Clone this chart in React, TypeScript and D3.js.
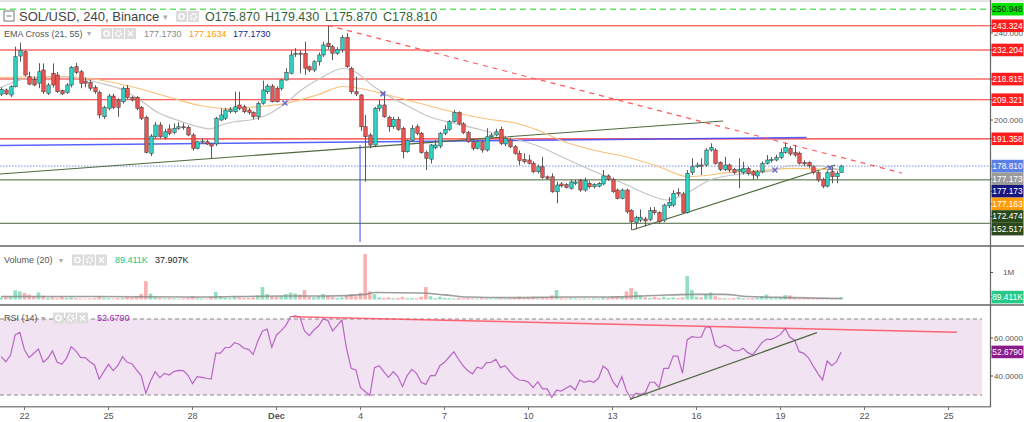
import React from "react";
import * as d3 from "d3";

// ---------- DATA ----------
const opens = [211.9,213.8,211.5,215.3,229.4,231.4,219.9,218.7,216.9,223.0,212.3,221.5,220.7,213.5,212.6,216.1,224.5,222.2,217.9,217.2,214.9,212.6,201.5,205.4,211.0,209.2,208.4,214.6,210.4,210.4,205.8,201.2,184.7,192.3,197.7,192.0,195.9,194.3,196.2,196.9,196.6,193.1,187.0,190.0,190.0,189.0,189.0,200.0,200.8,203.8,203.8,206.9,206.1,204.6,203.4,201.5,207.7,213.0,215.6,214.6,214.6,218.4,221.5,230.2,230.7,230.7,224.5,223.0,226.8,229.9,235.3,233.7,230.7,232.2,238.0,223.8,213.0,211.5,196.9,193.1,188.5,205.4,206.9,201.2,196.9,200.3,196.2,185.4,190.5,196.9,193.9,185.0,182.0,187.2,188.0,193.9,195.7,199.2,203.4,198.2,194.2,190.0,187.0,190.0,186.2,192.3,193.1,195.7,189.0,190.8,187.7,184.7,181.9,181.6,180.1,176.2,178.5,173.9,173.9,167.0,170.6,170.3,168.6,170.9,172.1,167.8,170.9,169.3,169.6,170.6,174.3,172.7,167.8,164.0,167.8,158.3,152.8,154.0,154.5,154.3,158.3,157.4,154.0,160.5,160.9,166.6,166.0,157.4,175.8,178.5,179.3,179.3,186.2,186.2,180.4,177.3,179.3,177.3,176.5,175.8,177.8,176.2,174.3,176.2,180.1,181.3,181.6,182.8,185.0,187.0,185.0,184.7,180.4,180.4,178.5,175.8,172.7,169.6,176.2,173.9,175.87];
const highs = [215.0,214.5,216.0,233.7,235.5,232.0,222.2,220.0,226.1,226.0,217.0,226.0,222.0,214.0,217.0,224.8,226.3,223.0,219.5,218.5,216.0,213.5,206.5,212.0,212.0,210.0,215.5,216.1,211.0,211.0,206.5,202.0,193.5,199.0,199.0,196.0,198.0,198.5,199.0,198.5,197.5,194.0,190.5,191.5,191.0,189.5,201.5,205.4,205.5,206.0,213.0,213.0,207.0,205.5,204.0,208.5,218.1,216.5,216.5,215.5,219.0,223.8,232.0,233.0,232.0,236.0,225.0,227.5,231.0,236.0,243.3,234.5,233.5,239.1,239.9,224.5,219.9,212.0,202.3,194.0,206.0,209.2,213.0,202.0,201.5,201.5,197.0,191.0,197.7,198.0,194.5,186.0,189.0,190.8,194.5,197.7,200.0,204.6,204.0,199.0,195.0,191.0,190.5,190.5,196.2,194.0,196.0,196.9,192.5,191.5,188.5,186.0,184.7,183.9,181.0,179.5,183.1,174.5,175.5,171.6,171.5,171.0,172.5,172.5,173.0,173.5,172.0,171.0,171.5,177.0,175.0,173.5,168.5,168.5,168.5,159.0,156.0,158.9,155.5,159.9,160.0,158.0,161.5,164.5,167.8,168.6,167.0,177.0,182.4,180.5,182.4,187.0,189.3,187.0,181.0,183.1,180.0,178.0,182.4,180.8,178.5,177.0,177.0,181.0,183.9,183.0,184.0,187.0,189.6,188.0,188.5,185.5,181.5,181.0,179.0,176.5,173.5,176.5,178.5,176.5,179.43];
const lows = [211.0,211.5,210.5,215.0,226.8,220.0,216.0,215.5,214.6,212.0,211.5,215.0,212.5,211.5,212.0,215.0,221.0,214.6,215.0,213.5,212.0,200.8,200.5,204.5,205.0,201.5,207.5,209.5,208.5,204.5,200.0,184.7,183.4,191.5,191.5,191.0,193.0,193.5,195.5,195.5,192.5,185.9,186.5,189.0,188.5,182.4,188.0,199.5,200.0,203.0,203.0,204.5,203.0,202.5,200.3,200.0,207.0,212.0,208.0,208.0,213.5,218.0,221.0,229.0,221.5,220.7,222.0,222.0,225.0,229.0,232.5,227.6,230.0,231.0,224.0,212.0,211.0,195.0,171.6,187.0,187.5,204.0,201.0,194.6,196.0,195.0,182.4,185.0,190.0,193.0,184.5,177.0,180.0,186.5,187.0,193.0,195.0,198.8,197.5,193.5,189.5,186.0,186.5,185.0,185.5,191.5,192.5,188.5,188.0,187.0,184.0,179.3,180.0,179.5,175.5,175.5,173.0,172.5,166.5,161.7,169.0,168.5,168.0,170.0,167.0,167.0,168.5,168.5,169.0,170.0,172.0,166.5,163.5,163.5,157.0,149.4,149.7,153.0,151.0,153.5,156.5,152.5,153.0,159.5,160.0,165.0,157.0,157.0,174.7,178.0,174.7,178.5,185.5,179.5,176.5,176.5,176.0,175.0,168.6,175.0,174.5,172.4,173.0,175.5,179.5,180.5,181.0,182.0,184.5,183.5,183.0,179.5,179.0,178.0,175.0,171.5,168.6,169.0,170.9,170.9,175.87];
const closes = [214.1,212.0,215.3,229.1,231.9,220.7,216.5,216.1,222.2,213.0,216.1,216.1,213.0,212.0,216.1,224.2,221.9,216.9,216.9,214.6,213.0,202.3,205.8,211.0,205.8,205.8,214.6,210.4,209.2,205.4,200.8,185.0,192.6,197.7,192.3,194.6,193.9,196.2,196.9,196.6,193.1,187.0,190.0,190.3,189.0,188.0,200.8,202.3,204.6,204.9,206.1,205.4,203.8,203.5,201.5,207.7,213.8,215.6,208.4,208.4,218.4,221.8,229.9,230.7,230.2,223.8,223.0,226.8,229.9,234.5,233.7,230.7,232.5,238.0,224.5,213.0,212.0,196.9,192.3,188.5,205.4,206.9,201.5,196.9,200.3,195.7,185.4,190.5,196.2,193.9,185.0,182.4,188.5,188.5,193.9,195.7,199.2,203.4,198.2,194.2,190.0,187.0,190.0,186.2,192.3,193.1,194.6,189.3,191.6,187.7,184.7,181.3,180.8,180.1,176.2,178.5,173.6,173.2,167.0,170.1,169.7,169.0,171.5,171.5,167.8,172.1,169.3,170.4,170.9,174.3,172.7,167.0,164.0,167.8,157.8,153.2,155.3,155.3,153.6,158.3,157.4,153.2,160.9,162.0,166.3,166.0,157.4,175.5,178.5,179.3,178.8,186.2,187.4,180.1,177.3,179.3,177.0,175.8,177.3,177.8,175.5,174.7,176.2,180.1,181.6,181.9,182.8,185.0,187.4,184.4,183.9,180.1,179.8,178.9,175.8,172.4,169.6,175.8,173.9,175.5,178.81];
// volume in millions
const volumes = [0.08,0.1,0.12,0.34,0.3,0.24,0.18,0.12,0.26,0.14,0.06,0.08,0.05,0.1,0.06,0.08,0.05,0.04,0.03,0.04,0.05,0.12,0.06,0.05,0.04,0.05,0.06,0.1,0.08,0.12,0.2,0.68,0.22,0.08,0.06,0.04,0.05,0.04,0.03,0.04,0.05,0.12,0.05,0.04,0.03,0.1,0.28,0.12,0.06,0.05,0.1,0.08,0.05,0.06,0.08,0.15,0.46,0.2,0.12,0.1,0.12,0.2,0.25,0.22,0.18,0.35,0.1,0.08,0.12,0.2,0.15,0.1,0.06,0.08,0.15,0.2,0.12,0.25,1.68,0.3,0.2,0.08,0.06,0.08,0.05,0.06,0.1,0.05,0.06,0.04,0.1,0.46,0.12,0.05,0.1,0.06,0.05,0.04,0.06,0.04,0.05,0.04,0.03,0.05,0.04,0.03,0.03,0.04,0.03,0.04,0.05,0.1,0.04,0.05,0.1,0.04,0.08,0.06,0.15,0.35,0.05,0.04,0.05,0.04,0.03,0.04,0.03,0.04,0.03,0.08,0.06,0.1,0.12,0.08,0.3,0.42,0.3,0.15,0.08,0.06,0.1,0.06,0.1,0.06,0.08,0.05,0.08,0.87,0.35,0.1,0.08,0.2,0.26,0.12,0.06,0.05,0.04,0.05,0.08,0.05,0.04,0.05,0.06,0.12,0.18,0.05,0.04,0.06,0.16,0.15,0.05,0.03,0.04,0.05,0.04,0.05,0.06,0.06,0.05,0.05,0.089411];
const rsiValues = [50.2,47.5,51.0,61.6,63.0,53.7,49.7,52.0,54.2,47.2,49.3,53.2,47.2,46.3,49.3,55.4,53.2,49.8,49.7,47.5,45.8,38.4,42.3,46.1,42.8,45.4,50.2,47.2,46.5,43.2,40.2,30.9,37.4,42.3,39.1,41.4,40.5,42.3,43.0,42.8,40.5,36.0,39.7,39.3,38.8,38.4,52.0,52.0,55.0,55.0,57.5,56.7,54.6,54.0,51.4,58.4,63.7,64.7,55.1,61.6,63.9,66.5,71.2,71.6,71.1,63.7,61.2,64.2,66.3,70.0,69.3,63.7,66.5,69.5,54.6,44.0,43.2,33.9,31.8,29.7,44.4,45.4,42.3,39.3,42.3,39.7,34.4,40.2,43.5,41.4,36.7,35.6,40.2,40.2,45.4,47.2,50.0,52.8,48.8,45.3,42.8,41.1,44.6,43.9,47.0,47.2,48.8,44.4,45.4,42.3,39.6,37.9,37.7,36.7,33.9,37.0,33.2,33.2,28.8,32.6,32.1,33.5,34.9,32.6,37.9,36.7,37.4,36.7,38.8,45.3,43.2,37.4,34.0,39.6,32.1,27.9,30.9,30.3,31.2,36.7,36.7,34.0,44.0,44.0,50.5,50.5,41.4,59.0,60.7,60.4,60.4,66.0,65.4,56.3,54.9,56.3,55.1,53.3,53.3,54.6,52.3,51.1,54.2,57.5,59.3,59.3,60.4,61.9,65.1,60.4,59.0,52.8,51.9,49.6,45.3,41.4,37.9,47.9,45.4,47.5,52.679];

const ema21Bars = [-0.26,6.17,14.1,17.53,21.17,26.1,29.74,33.38,37.67,41.95,44.74,46.88,49.67,53.95,56.95,61.24,64.02,68.31,73.24,76.24,79.67,82.02,86.95,91.88,96.81,102.6,108.38,115.45,119.74,122.52,129.38,134.1,138.38,142.67,146.95,151.88,156.81,164.1,169.66,174.81,178.24,180];
const ema21Values = [214.71,219.31,219.77,218.85,217.01,213.79,209.2,203.68,200.0,197.01,195.86,197.47,199.08,200.23,202.3,208.28,213.33,219.08,223.68,221.61,215.63,212.28,206.67,201.38,198.62,195.63,192.32,187.72,183.45,180.69,174.25,170.11,165.98,163.22,166.44,172.41,174.71,176.23,179.08,179.08,177.79,177.173];
const ema55Bars = [-0.26,14.1,21.17,28.24,35.53,42.6,48.38,55.45,61.02,67.67,73.24,77.52,82.02,88.24,95.52,104.74,109.67,115.45,119.74,126.81,134.1,141.16,146.95,149.73,155.52,162.59,169.66,176.95,180];
const ema55Values = [219.54,220.0,218.39,215.17,210.8,206.67,205.29,206.21,207.68,211.49,215.4,214.25,211.95,208.51,204.37,200.23,198.85,194.94,190.8,186.21,182.99,178.39,174.02,174.25,175.77,176.69,177.79,177.33,177.163];
const crossBars = [60.8, 81.8, 165.8, 177.6];
const crossPrices = [207.8, 212.0, 177.0, 177.9];

const volMaBars = [0,20,40,60,70,78,80,90,95,100,110,120,130,140,148,155,160,170,180];
const volMaValues = [0.11,0.11,0.09,0.13,0.13,0.19,0.26,0.24,0.17,0.09,0.07,0.09,0.09,0.15,0.19,0.19,0.11,0.07,0.038];

const levelPrices = [250.948, 243.324, 232.204, 218.815, 209.321, 191.358, 178.81, 172.474, 152.517];
const emaLabelPrices = [177.173, 177.173, 177.163];
const priceTicks = [160, 180, 200, 220, 240];
const rsiTicks = [40, 60];
const volTicks = [1];

const trendGreenBars = [-0.26, 154.7], trendGreenPrices = [175.17, 199.54];
const trendBlueBars = [-0.26, 172.6], trendBluePrices = [188.28, 191.95];
const trendRedBars = [70, 193], trendRedPrices = [243.5, 175.6];
const triangleBars = [135.2, 178.7], trianglePrices = [149.43, 179.3];
const vLineBar = 76.9, vLinePrices = [188.5, 143.9];
const rsiRedBars = [62.5, 204.8], rsiRedValues = [71.2, 63.0];
const rsiGreenBars = [134.7, 174.8], rsiGreenValues = [27.7, 62.8];

const tickDates = [[2021,10,22],[2021,10,25],[2021,10,28],[2021,11,1],[2021,11,4],[2021,11,7],[2021,11,10],[2021,11,13],[2021,11,16],[2021,11,19],[2021,11,22],[2021,11,25]];
const tickLabels = ["22","25","28","Dec","4","7","10","13","16","19","22","25"];

// ---------- LAYOUT / STYLE ----------
const W = 1024, H = 422;
const AXIS_X = 990;
const LABEL_CX = (AXIS_X + 1.5 + W - 0.5) / 2;
const FONT = "'Liberation Sans', Arial, sans-serif";
const LABEL_FS = 8.4;
const TICK_FS = 8;
const UP = "#2ed6c6", DOWN = "#ef5653";
const levelStyles = [
  { color: "#6be06b", width: 1.5, dash: "6,4", bg: "#00e400", fg: "#111" },
  { color: "#ff3030", width: 1, dash: "", bg: "#ff1c1c", fg: "#fff" },
  { color: "#ff8f8f", width: 2, dash: "", bg: "#ff1c1c", fg: "#fff" },
  { color: "#ff8f8f", width: 2, dash: "", bg: "#ff1c1c", fg: "#fff" },
  { color: "#ff3030", width: 1, dash: "", bg: "#ff1c1c", fg: "#fff" },
  { color: "#ff3030", width: 1.2, dash: "", bg: "#ff1c1c", fg: "#fff" },
  { color: "#6f8ff0", width: 1, dash: "1.5,1.5", bg: "#5b7fe6", fg: "#fff" },
  { color: "#4a6638", width: 1, dash: "", bg: "#2b4a1a", fg: "#fff" },
  { color: "#4a6638", width: 1, dash: "", bg: "#2b4a1a", fg: "#fff" },
];
const emaLabelStyles = [
  { bg: "#9b9b9b", fg: "#fff" },
  { bg: "#17177e", fg: "#fff" },
  { bg: "#ff9d0a", fg: "#fff" },
];

const barTime = (i: number) => Date.UTC(2021, 10, 21, 4) + i * 4 * 3600e3;
const x = d3.scaleUtc().domain([new Date(Date.UTC(2021, 10, 22)), new Date(Date.UTC(2021, 11, 25))]).range([24.5, 948.5]);
const xb = (i: number) => x(new Date(barTime(i)));
const yP = d3.scaleLinear().domain([200, 240]).range([120, 33]);
const yV = d3.scaleLinear().domain([0, 1]).range([299.5, 272.5]);
const yR = d3.scaleLinear().domain([40, 60]).range([376, 338]);

function Icons({ x0, y0, n }: { x0: number; y0: number; n: number }) {
  const items = [];
  for (let k = 0; k < n; k++) {
    const bx = x0 + k * 12;
    items.push(
      <g key={k}>
        <rect x={bx} y={y0} width={11} height={11} fill="#dcdcdc" />
        {k === 0 && <circle cx={bx + 5.5} cy={y0 + 5.5} r={2.6} fill="none" stroke="#fff" strokeWidth={1.4} />}
        {k === 1 && <circle cx={bx + 5.5} cy={y0 + 5.5} r={2.8} fill="none" stroke="#fff" strokeWidth={2} strokeDasharray="1.6,1.2" />}
        {k === 2 && <path d={`M${bx + 3},${y0 + 3}L${bx + 8},${y0 + 8}M${bx + 8},${y0 + 3}L${bx + 3},${y0 + 8}`} stroke="#fff" strokeWidth={1.4} />}
      </g>
    );
  }
  return <g>{items}</g>;
}

function AxisLabel({ y, text, bg, fg }: { y: number; text: string; bg: string; fg: string }) {
  return (
    <g>
      <line x1={AXIS_X} x2={AXIS_X + 4} y1={y} y2={y} stroke="#555" />
      <rect x={AXIS_X + 1.5} y={y - 6.3} width={W - AXIS_X - 2} height={12.6} fill={bg} />
      <text x={LABEL_CX} y={y + 3} fontSize={LABEL_FS} fill={fg} textAnchor="middle" fontFamily={FONT}>{text}</text>
    </g>
  );
}

function Tick({ y, text }: { y: number; text: string }) {
  return (
    <g>
      <line x1={AXIS_X} x2={AXIS_X + 3} y1={y} y2={y} stroke="#555" />
      <text x={LABEL_CX + 1} y={y + 2.9} fontSize={TICK_FS} fill="#555" textAnchor="middle" fontFamily={FONT}>{text}</text>
    </g>
  );
}

export default function App() {
  const n = closes.length;
  const line = d3.line<[number, number]>().x((d) => d[0]).y((d) => d[1]);
  const smooth = d3.line<[number, number]>().x((d) => d[0]).y((d) => d[1]).curve(d3.curveMonotoneX);

  const ema21Path = smooth(ema21Bars.map((b, i) => [xb(b), yP(ema21Values[i])]));
  const ema55Path = smooth(ema55Bars.map((b, i) => [xb(b), yP(ema55Values[i])]));
  const volMaPath = smooth(volMaBars.map((b, i) => [xb(b), yV(volMaValues[i])]));
  const rsiPath = line(rsiValues.map((v, i) => [xb(i), yR(v)]));

  // right-axis price labels with collision stacking
  const labels = [
    ...levelPrices.map((p, i) => ({ p, ...levelStyles[i] })),
    ...emaLabelPrices.map((p, i) => ({ p, ...emaLabelStyles[i] })),
  ].sort((a, b) => b.p - a.p);
  let prevY = -100;
  const placed = labels.map((l) => {
    const yy = Math.max(yP(l.p), prevY + 12.6);
    prevY = yy;
    return { ...l, y: yy };
  });
  // hide tick labels that sit under a price label (as the price scale does)
  const visibleTicks = priceTicks.filter((t) => placed.every((l) => Math.abs(l.y - yP(t)) > 7));

  const seg = (bars: number[], vals: number[], sc: (v: number) => number) =>
    ({ x1: xb(bars[0]), y1: sc(vals[0]), x2: xb(bars[1]), y2: sc(vals[1]) });
  const tG = seg(trendGreenBars, trendGreenPrices, yP);
  const tB = seg(trendBlueBars, trendBluePrices, yP);
  const tR = seg(trendRedBars, trendRedPrices, yP);
  const tT = seg(triangleBars, trianglePrices, yP);
  const rR = seg(rsiRedBars, rsiRedValues, yR);
  const rG = seg(rsiGreenBars, rsiGreenValues, yR);

  const txt = { fontFamily: FONT } as const;

  return (
    <svg width={W} height={H} style={{ position: "absolute", left: 0, top: 0, background: "#fff" }}>
      <defs>
        <clipPath id="mainClip"><rect x={0} y={0} width={AXIS_X} height={245} /></clipPath>
        <clipPath id="rsiClip"><rect x={0} y={306} width={AXIS_X} height={100} /></clipPath>
      </defs>
      <rect x={0} y={0} width={W} height={H} fill="#fff" />
      <rect x={0} y={0} width={W} height={2} fill="#e4e4e4" />

      {/* ---- main pane ---- */}
      <g clipPath="url(#mainClip)">
        {levelPrices.map((p, i) => (
          <line key={"lv" + i} x1={0} x2={AXIS_X} y1={yP(p)} y2={yP(p)} stroke={levelStyles[i].color}
            strokeWidth={levelStyles[i].width} strokeDasharray={levelStyles[i].dash || undefined} />
        ))}
        <line {...tB} stroke="#3a48ff" strokeOpacity={0.85} strokeWidth={1.5} />
        <line {...tG} stroke="#4f6a3c" strokeWidth={1.2} />
        <line {...tT} stroke="#4f6a3c" strokeWidth={1.2} />
        <line {...tR} stroke="#ff5a5a" strokeWidth={1.2} strokeDasharray="5,5" />
        <line x1={xb(vLineBar)} x2={xb(vLineBar)} y1={yP(vLinePrices[0])} y2={yP(vLinePrices[1])} stroke="#3a48ff" strokeWidth={1} />
        <path d={ema55Path || ""} fill="none" stroke="#f9c27c" strokeWidth={1.2} />
        <path d={ema21Path || ""} fill="none" stroke="#c4c4c4" strokeWidth={1.2} />
        {closes.map((c, i) => {
          const o = opens[i];
          const cx = Math.round(xb(i)) + 0.5;
          const top = yP(Math.max(o, c));
          const bot = yP(Math.min(o, c));
          return (
            <g key={"c" + i}>
              <line x1={cx} x2={cx} y1={yP(highs[i])} y2={yP(lows[i])} stroke="#5a5a5a" strokeWidth={1} />
              <rect x={cx - 1.7} y={top} width={3.4} height={Math.max(1, bot - top)} fill={c >= o ? UP : DOWN} stroke="#444" strokeWidth={0.6} />
            </g>
          );
        })}
        {crossBars.map((b, i) => {
          const cx = xb(b), cy = yP(crossPrices[i]);
          return <path key={"x" + i} d={`M${cx - 2.5},${cy - 2.5}L${cx + 2.5},${cy + 2.5}M${cx + 2.5},${cy - 2.5}L${cx - 2.5},${cy + 2.5}`} stroke="#6a6ad0" strokeWidth={1.5} />;
        })}
      </g>

      {/* header legend */}
      <rect x={4} y={11} width={10} height={10} fill="#fff" stroke="#777" />
      <line x1={6.5} x2={11.5} y1={16} y2={16} stroke="#777" />
      <text x={19} y={21} fontSize={13} fill="#444" {...txt}>SOL/USD, 240, Binance</text>
      <text x={163} y={20} fontSize={9} fill="#aaa" {...txt}>▾</text>
      <Icons x0={176} y0={11} n={2} />
      <text x={205} y={21} fontSize={12.5} fill="#355e3b" {...txt}>O175.870</text>
      <text x={265} y={21} fontSize={12.5} fill="#355e3b" {...txt}>H179.430</text>
      <text x={325} y={21} fontSize={12.5} fill="#355e3b" {...txt}>L175.870</text>
      <text x={383} y={21} fontSize={12.5} fill="#355e3b" {...txt}>C178.810</text>

      <text x={4} y={36.5} fontSize={9} fill="#555" {...txt}>EMA Cross (21, 55)</text>
      <text x={87} y={36} fontSize={8} fill="#aaa" {...txt}>▾</text>
      <Icons x0={101} y0={28} n={3} />
      <text x={144} y={36.5} fontSize={9} fill="#8a8a8a" {...txt}>177.1730</text>
      <text x={189} y={36.5} fontSize={9} fill="#ff9800" {...txt}>177.1634</text>
      <text x={233} y={36.5} fontSize={9} fill="#1a1a8c" {...txt}>177.1730</text>

      {/* ---- volume pane ---- */}
      {volumes.map((v, i) => {
        const cx = xb(i);
        return <rect key={"v" + i} x={cx - 1.8} y={yV(v)} width={3.6} height={yV(0) - yV(v)}
          fill={closes[i] >= opens[i] ? "rgba(38,194,129,0.5)" : "rgba(239,83,80,0.45)"} />;
      })}
      <path d={volMaPath || ""} fill="none" stroke="#8c8c8c" strokeOpacity={0.85} strokeWidth={1.6} />
      <text x={4} y={263} fontSize={9} fill="#555" {...txt}>Volume (20)</text>
      <text x={59} y={262.5} fontSize={8} fill="#aaa" {...txt}>▾</text>
      <Icons x0={72} y0={254.5} n={3} />
      <text x={115} y={263} fontSize={9} fill="#26c281" {...txt}>89.411K</text>
      <text x={155} y={263} fontSize={9} fill="#222" {...txt}>37.907K</text>

      {/* ---- RSI pane ---- */}
      <g clipPath="url(#rsiClip)">
        <rect x={0} y={yR(70)} width={982} height={yR(30) - yR(70)} fill="#f1e3f1" />
        <line x1={0} x2={982} y1={yR(70)} y2={yR(70)} stroke="#888" strokeDasharray="4,3" />
        <line x1={0} x2={982} y1={yR(30)} y2={yR(30)} stroke="#888" strokeDasharray="4,3" />
        <path d={rsiPath || ""} fill="none" stroke="#b866c6" strokeWidth={1.2} />
        <line {...rR} stroke="#ff4d5e" strokeWidth={1.5} strokeOpacity={0.85} />
        <line {...rG} stroke="#556b45" strokeWidth={1.2} />
      </g>
      <text x={4} y={321} fontSize={9} fill="#555" {...txt}>RSI (14)</text>
      <text x={41} y={320.5} fontSize={8} fill="#aaa" {...txt}>▾</text>
      <Icons x0={53} y0={312.5} n={3} />
      <text x={97} y={321} fontSize={9} fill="#9c27b0" {...txt}>52.6790</text>

      {/* ---- separators & axes ---- */}
      <rect x={0} y={245} width={W} height={2} fill="#8a8a8a" />
      <rect x={0} y={304} width={W} height={2} fill="#8a8a8a" />
      <rect x={0} y={406} width={AXIS_X + 1} height={1.5} fill="#8a8a8a" />
      <line x1={AXIS_X + 0.5} x2={AXIS_X + 0.5} y1={0} y2={407} stroke="#666" strokeWidth={1.2} />

      {visibleTicks.map((t) => <Tick key={"pt" + t} y={yP(t)} text={t.toFixed(3)} />)}
      {placed.map((l, i) => (
        <AxisLabel key={"al" + i} y={l.y} text={l.p.toFixed(3)} bg={l.bg} fg={l.fg} />
      ))}

      {volTicks.map((t) => <Tick key={"vt" + t} y={yV(t)} text={t + "M"} />)}
      <AxisLabel y={yV(volumes[n - 1])} text="89.411K" bg="#26c987" fg="#fff" />

      {rsiTicks.map((t) => <Tick key={"rt" + t} y={yR(t)} text={t.toFixed(4)} />)}
      <AxisLabel y={yR(rsiValues[n - 1])} text={rsiValues[n - 1].toFixed(4)} bg="#8b1a8b" fg="#fff" />

      {tickDates.map((d, i) => {
        const xx = x(new Date(Date.UTC(d[0], d[1], d[2])));
        return (
          <g key={"td" + i}>
            <line x1={xx} x2={xx} y1={407} y2={410} stroke="#777" />
            <text x={xx} y={418.5} fontSize={9.2} fill="#555" textAnchor="middle" fontWeight={tickLabels[i] === "Dec" ? 700 : 400} {...txt}>{tickLabels[i]}</text>
          </g>
        );
      })}
    </svg>
  );
}
